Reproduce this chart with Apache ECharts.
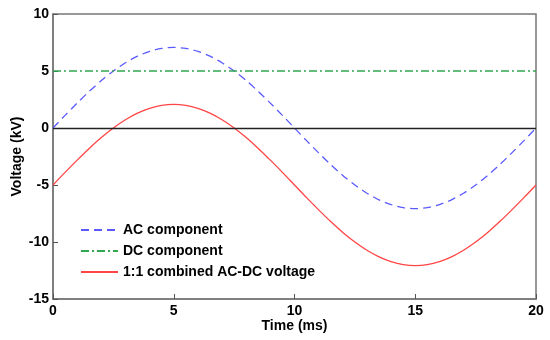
<!DOCTYPE html>
<html>
<head>
<meta charset="utf-8">
<script src="https://cdn.jsdelivr.net/npm/echarts@6/dist/echarts.min.js"></script>
<style>html,body{margin:0;padding:0;background:#fff}#c{width:550px;height:340px}</style>
</head>
<body>
<div id="c"></div>
<script>
var times = [0,0.5,1,1.5,2,2.5,3,3.5,4,4.5,5,5.5,6,6.5,7,7.5,8,8.5,9,9.5,10,10.5,11,11.5,12,12.5,13,13.5,14,14.5,15,15.5,16,16.5,17,17.5,18,18.5,19,19.5,20];
var acValues = [0,1.11,2.18,3.21,4.16,5.00,5.72,6.30,6.72,6.98,7.07,6.98,6.72,6.30,5.72,5.00,4.16,3.21,2.18,1.11,0,-1.11,-2.18,-3.21,-4.16,-5.00,-5.72,-6.30,-6.72,-6.98,-7.07,-6.98,-6.72,-6.30,-5.72,-5.00,-4.16,-3.21,-2.18,-1.11,0];
var dcValues = [5,5,5,5,5,5,5,5,5,5,5,5,5,5,5,5,5,5,5,5,5,5,5,5,5,5,5,5,5,5,5,5,5,5,5,5,5,5,5,5,5];
var combinedValues = [-5,-3.89,-2.82,-1.79,-0.84,0,0.72,1.30,1.72,1.98,2.07,1.98,1.72,1.30,0.72,0,-0.84,-1.79,-2.82,-3.89,-5,-6.11,-7.18,-8.21,-9.16,-10,-10.72,-11.30,-11.72,-11.98,-12.07,-11.98,-11.72,-11.30,-10.72,-10,-9.16,-8.21,-7.18,-6.11,-5];
var seriesNames = ['AC component','DC component','1:1 combined AC-DC voltage'];
var xTicks = [0,5,10,15,20];
var yTicks = [-15,-10,-5,0,5,10];

function pairs(vals){ return times.map(function(t,i){ return [t, vals[i]]; }); }
var font = 'Arial, "Liberation Sans", sans-serif';
var chart = echarts.init(document.getElementById('c'), null, {renderer:'canvas'});
chart.setOption({
  animation: false,
  backgroundColor: '#fff',
  grid: {left: 53, right: 14, top: 14, bottom: 41, show: true, borderColor: '#777', borderWidth: 1.5,
         backgroundColor: 'transparent', containLabel: false, outerBoundsMode: 'none'},
  legend: {
    left: 75, top: 218, orient: 'vertical', itemWidth: 37, itemHeight: 14, itemGap: 7,
    data: seriesNames,
    itemStyle: {opacity: 0},
    textStyle: {fontFamily: font, fontSize: 14, fontWeight: 'bold', color: '#000'}
  },
  xAxis: {
    type: 'value', min: xTicks[0], max: xTicks[xTicks.length-1], interval: 5,
    name: 'Time (ms)', nameLocation: 'middle', nameGap: 20, nameMoveOverlap: false,
    nameTextStyle: {fontFamily: font, fontSize: 14, fontWeight: 'bold', color: '#000'},
    axisLine: {show: true, onZero: false, lineStyle: {color: '#777', width: 1.5}},
    axisTick: {show: true, inside: true, length: 5, lineStyle: {color: '#555'}},
    axisLabel: {fontFamily: font, fontSize: 14, fontWeight: 'bold', color: '#000', margin: 5},
    splitLine: {show: false}
  },
  yAxis: {
    type: 'value', min: yTicks[0], max: yTicks[yTicks.length-1], interval: 5,
    name: 'Voltage (kV)', nameLocation: 'middle', nameGap: 29, nameMoveOverlap: false,
    nameTextStyle: {fontFamily: font, fontSize: 14, fontWeight: 'bold', color: '#000'},
    axisLine: {show: true, lineStyle: {color: '#777', width: 1.5}},
    axisTick: {show: true, inside: true, length: 5, lineStyle: {color: '#555'}},
    axisLabel: {fontFamily: font, fontSize: 14, fontWeight: 'bold', color: '#000', margin: 4},
    splitLine: {show: false}
  },
  series: [
    {name: seriesNames[0], type: 'line', data: pairs(acValues), symbol: 'none', smooth: 0.3,
     lineStyle: {color: '#5a5aff', width: 1.3, type: [8,5]}, itemStyle: {color: '#5a5aff'},
     markLine: {silent: true, symbol: 'none', label: {show: false}, data: [{yAxis: 0}],
       lineStyle: {color: '#222', width: 1.3, type: 'solid'}}},
    {name: seriesNames[1], type: 'line', data: pairs(dcValues), symbol: 'none',
     lineStyle: {color: '#2fa84f', width: 1.5, type: [8,3,2,3]}, itemStyle: {color: '#2fa84f'}},
    {name: seriesNames[2], type: 'line', data: pairs(combinedValues), symbol: 'none', smooth: 0.3,
     lineStyle: {color: '#ff4545', width: 1.3, type: 'solid'}, itemStyle: {color: '#ff4545'}}
  ]
});
</script>
</body>
</html>
